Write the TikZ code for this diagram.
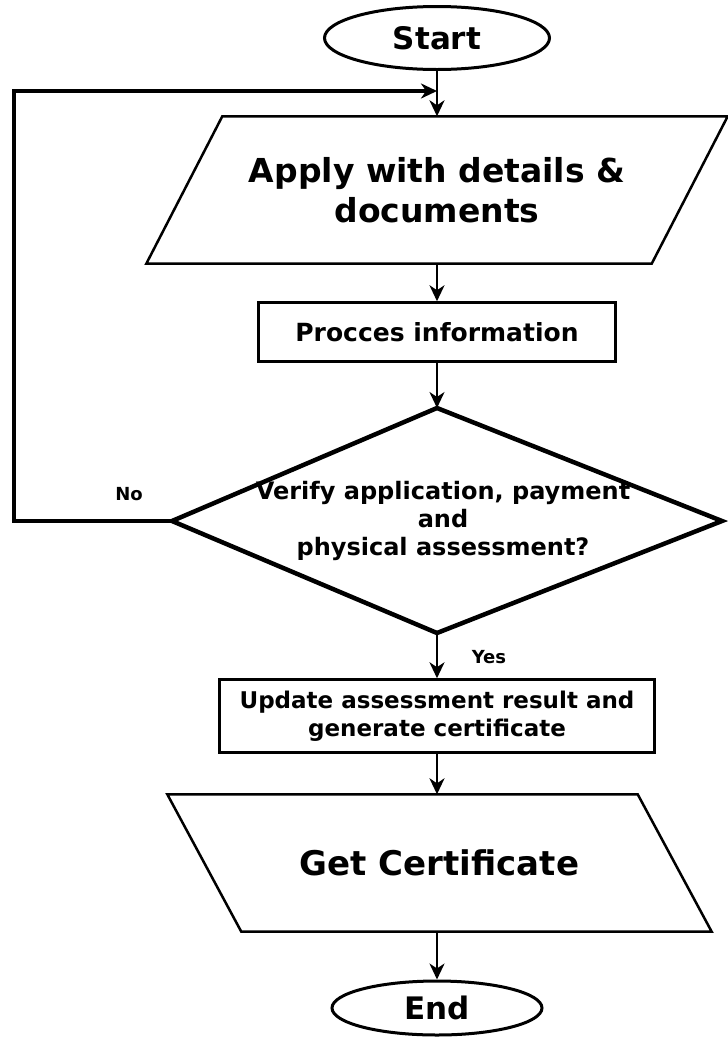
\documentclass[tikz,border=0pt]{standalone}
\usepackage{fontspec}
\setmainfont{DejaVu Sans}
\usetikzlibrary{arrows.meta,shapes.geometric}

\begin{document}
\begin{tikzpicture}[x=1pt,y=-1pt,font=\bfseries]
    \tikzstyle{term}=[ellipse,draw,line width=3pt,inner sep=0pt,font=\fontsize{31}{36}\selectfont\bfseries]
    \tikzstyle{io}=[rectangle,inner sep=0pt,align=center,font=\fontsize{33}{40}\selectfont\bfseries]
    \tikzstyle{proc}=[rectangle,draw,line width=2.5pt,inner sep=0pt,align=center,font=\fontsize{23}{28}\selectfont\bfseries]
    \tikzstyle{flow}=[line width=2.5pt,-{Stealth[length=16pt,width=15pt,inset=5pt]}]
    \tikzstyle{lbl}=[font=\fontsize{18}{20}\selectfont\bfseries]
    \useasboundingbox (0,0) rectangle (728,1037);
    \node [term,minimum width=225pt,minimum height=63pt] (start) at (437,38) {Start};
    \node [io,minimum width=505pt,minimum height=147pt] (apply) at (437,190) {Apply with details \&\\documents};
    \draw [line width=2.5pt] ([xshift=38pt]apply.north west) -- ([xshift=38pt]apply.north east) -- ([xshift=-38pt]apply.south east) -- ([xshift=-38pt]apply.south west) -- cycle;
    \node [proc,minimum width=357pt,minimum height=59pt,font=\fontsize{25}{30}\selectfont\bfseries] (info) at (437,332) {Procces information};
    \coordinate (vt) at (437,408);
    \coordinate (vr) at (722,521);
    \coordinate (vb) at (437,633);
    \coordinate (vl) at (172,521);
    \draw [line width=4.5pt] (vt) -- (vr) -- (vb) -- (vl) -- cycle;
    \node [align=center,font=\fontsize{24}{28}\selectfont\bfseries] (verify) at (443,521) {Verify application, payment\\and\\physical assessment?};
    \node [proc,minimum width=435pt,minimum height=73pt] (update) at (437,716) {Update assessment result and\\generate certificate};
    \node [io,minimum width=470pt,minimum height=137pt,font=\fontsize{34}{40}\selectfont\bfseries] (get) at (439.5,863) {Get Certificate};
    \draw [line width=2.5pt] ([xshift=-37pt]get.north west) -- ([xshift=-37pt]get.north east) -- ([xshift=37pt]get.south east) -- ([xshift=37pt]get.south west) -- cycle;
    \node [term,minimum width=210pt,minimum height=54pt] (end) at (437,1008) {End};
    \node [lbl] (no) at (129,494) {No};
    \node [lbl] (yes) at (489,657) {Yes};
    \coordinate (join) at (437,91);
    \coordinate (back) at (14,91);
    \draw [flow] (start) -- (apply);
    \draw [flow] (apply) -- (info);
    \draw [flow] (info) -- (vt);
    \draw [flow] (vb) -- (update);
    \draw [flow] (update) -- (update.south |- get.north);
    \draw [flow] (end.north |- get.south) -- (end);
    \draw [flow,line width=3.5pt] (vl) -| (back) -- (join);
\end{tikzpicture}
\end{document}
